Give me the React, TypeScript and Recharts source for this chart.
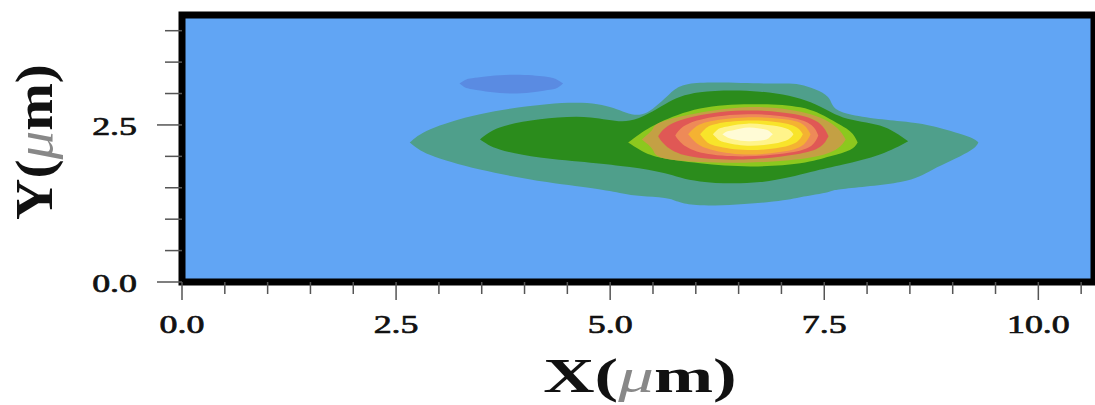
import React from "react";
import { ComposedChart, Area, XAxis, YAxis, ReferenceArea } from "recharts";

// contour bands: [x, lower y, upper y]
const outerBand = [
  [2.66, 2.22, 2.22], [2.9, 2.02, 2.43], [3.48, 1.79, 2.67], [4.26, 1.59, 2.83],
  [4.85, 1.48, 2.83], [5.18, 1.4, 2.7], [5.43, 1.36, 2.7], [5.7, 1.32, 3.0],
  [6.05, 1.22, 3.17], [6.83, 1.27, 3.16], [7.22, 1.35, 3.14], [7.54, 1.43, 2.95],
  [7.72, 1.48, 2.7], [8.39, 1.59, 2.56], [8.77, 1.79, 2.48], [9.17, 2.06, 2.32],
  [9.3, 2.22, 2.22],
];
const darkGreenBand = [
  [3.48, 2.27, 2.27], [3.71, 2.11, 2.46], [4.18, 1.98, 2.59], [4.77, 1.9, 2.62],
  [5.23, 1.83, 2.57], [5.64, 1.73, 2.83], [6.05, 1.6, 3.02], [6.75, 1.59, 3.03],
  [7.34, 1.75, 2.86], [7.72, 1.87, 2.62], [8.15, 2.03, 2.49], [8.48, 2.24, 2.24],
];
const lightGreenBand = [
  [5.21, 2.22, 2.22], [5.35, 2.1, 2.36], [5.58, 1.98, 2.54], [6.05, 1.89, 2.76],
  [6.64, 1.84, 2.83], [7.22, 1.89, 2.78], [7.57, 2.0, 2.59], [7.8, 2.1, 2.4],
  [7.89, 2.22, 2.22],
];
const tanBand = [
  [5.37, 2.27, 2.27], [5.5, 2.1, 2.44], [5.7, 1.95, 2.59], [6.58, 1.9, 2.78],
  [7.34, 1.98, 2.67], [7.65, 2.12, 2.45], [7.75, 2.27, 2.27],
];
const redBand = [
  [5.56, 2.32, 2.32], [5.65, 2.17, 2.46], [5.93, 2.0, 2.62], [6.55, 1.95, 2.73],
  [7.16, 2.03, 2.67], [7.45, 2.15, 2.52], [7.55, 2.32, 2.32],
];
const salmonBand = [
  [5.76, 2.33, 2.33], [5.85, 2.19, 2.47], [6.1, 2.05, 2.6], [6.6, 2.0, 2.67],
  [7.1, 2.06, 2.62], [7.35, 2.17, 2.5], [7.43, 2.33, 2.33],
];
const orangeBand = [
  [5.91, 2.35, 2.35], [6.0, 2.22, 2.47], [6.17, 2.11, 2.56], [6.58, 2.03, 2.62],
  [7.04, 2.08, 2.59], [7.26, 2.19, 2.5], [7.34, 2.35, 2.35],
];
const yellowBand = [
  [6.05, 2.35, 2.35], [6.12, 2.24, 2.45], [6.25, 2.16, 2.52], [6.6, 2.1, 2.57],
  [6.98, 2.14, 2.54], [7.18, 2.23, 2.46], [7.25, 2.35, 2.35],
];
const paleBand = [
  [6.2, 2.35, 2.35], [6.26, 2.27, 2.43], [6.35, 2.22, 2.47], [6.6, 2.17, 2.52],
  [6.9, 2.2, 2.49], [7.08, 2.27, 2.43], [7.14, 2.35, 2.35],
];
const peakBand = [
  [6.31, 2.35, 2.35], [6.37, 2.3, 2.4], [6.45, 2.27, 2.42], [6.62, 2.24, 2.46],
  [6.8, 2.26, 2.43], [6.86, 2.3, 2.4], [6.9, 2.35, 2.35],
];
const lowSpot = [
  [3.24, 3.16, 3.16], [3.3, 3.1, 3.21], [3.42, 3.06, 3.25], [3.84, 3.0, 3.3],
  [4.24, 3.05, 3.27], [4.38, 3.09, 3.22], [4.45, 3.16, 3.16],
];

const xTicks = [0, 0.5, 1, 1.5, 2, 2.5, 3, 3.5, 4, 4.5, 5, 5.5, 6, 6.5, 7, 7.5, 8, 8.5, 9, 9.5, 10, 10.5];
const xLabels = [0, 2.5, 5, 7.5, 10];
const yTicks = [0, 0.5, 1, 1.5, 2, 2.5, 3, 3.5, 4];
const yLabels = [0, 2.5];

const X_MAX = 10.65;
const Y_MAX = 4.25;

const layers = [
  { data: lowSpot, color: "#5a8be2" },
  { data: outerBand, color: "#4f9f8b" },
  { data: darkGreenBand, color: "#2b8c1c" },
  { data: lightGreenBand, color: "#8cc81e" },
  { data: tanBand, color: "#c4a044" },
  { data: redBand, color: "#e05855" },
  { data: salmonBand, color: "#ee8a58" },
  { data: orangeBand, color: "#f4b232" },
  { data: yellowBand, color: "#f8e42a" },
  { data: paleBand, color: "#fff48a" },
  { data: peakBand, color: "#fffbd6" },
];

const FONT = "'Liberation Serif', 'DejaVu Serif', serif";

const toRows = (band: number[][]) => band.map(([x, lo, hi]) => ({ x, r: [lo, hi] }));

const XTick = (props: any) => {
  const { x, y, payload } = props;
  const major = xLabels.includes(payload.value);
  return (
    <g>
      <line x1={x} x2={x} y1={y} y2={y + (major ? 18 : 12)} stroke="#555" strokeWidth={1.5} />
      {major && (
        <text
          transform={`translate(${x},${y + 51}) scale(1.38,1)`}
          textAnchor="middle"
          fontFamily={FONT}
          fontSize={26}
          fill="#111"
          stroke="#111"
          strokeWidth={0.7}
        >
          {payload.value.toFixed(1)}
        </text>
      )}
    </g>
  );
};

const YTick = (props: any) => {
  const { x, y, payload } = props;
  const major = yLabels.includes(payload.value);
  return (
    <g>
      <line x1={x - (major ? 25 : 17)} x2={x} y1={y} y2={y} stroke="#555" strokeWidth={1.5} />
      {major && (
        <text
          transform={`translate(${x - 45},${y + 10}) scale(1.38,1)`}
          textAnchor="end"
          fontFamily={FONT}
          fontSize={26}
          fill="#111"
          stroke="#111"
          strokeWidth={0.7}
        >
          {payload.value.toFixed(1)}
        </text>
      )}
    </g>
  );
};

const XTitle = () => (
  <text
    transform="translate(640,392) scale(1.48,1)"
    textAnchor="middle"
    fontFamily={FONT}
    fontSize={48}
    fontWeight="bold"
    fill="#111"
  >
    X(
    <tspan fontWeight="normal" fontStyle="italic" fill="#888">
      μ
    </tspan>
    m)
  </text>
);

const YTitle = () => (
  <text
    transform="translate(52,142) rotate(-90) scale(1.1,1)"
    textAnchor="middle"
    fontFamily={FONT}
    fontSize={52}
    fontWeight="bold"
    fill="#111"
  >
    Y(
    <tspan fontWeight="normal" fontStyle="italic" fill="#888">
      μ
    </tspan>
    m)
  </text>
);

export default function App() {
  return (
    <div style={{ position: "absolute", left: 0, top: 0, width: 1095, height: 405, background: "#fff" }}>
      <ComposedChart width={1095} height={405} margin={{ top: 15, right: 1, left: 82, bottom: 63 }}>
        <XAxis
          type="number"
          dataKey="x"
          domain={[0, X_MAX]}
          ticks={xTicks}
          interval={0}
          allowDataOverflow
          axisLine={false}
          tickLine={false}
          tickSize={0}
          tickMargin={0}
          height={60}
          tick={<XTick />}
          label={<XTitle />}
        />
        <YAxis
          type="number"
          domain={[0, Y_MAX]}
          ticks={yTicks}
          interval={0}
          allowDataOverflow
          axisLine={false}
          tickLine={false}
          tickSize={0}
          tickMargin={0}
          width={100}
          tick={<YTick />}
          label={<YTitle />}
        />
        <ReferenceArea x1={0} x2={X_MAX} y1={0} y2={Y_MAX} fill="#61a5f4" fillOpacity={1} stroke="none" />
        {layers.map((layer, i) => (
          <Area
            key={i}
            data={toRows(layer.data)}
            dataKey="r"
            type="natural"
            stroke="none"
            fill={layer.color}
            fillOpacity={1}
            dot={false}
            activeDot={false}
            isAnimationActive={false}
          />
        ))}
        <ReferenceArea x1={0} x2={X_MAX} y1={0} y2={Y_MAX} fill="none" stroke="#000" strokeWidth={7} />
      </ComposedChart>
    </div>
  );
}
